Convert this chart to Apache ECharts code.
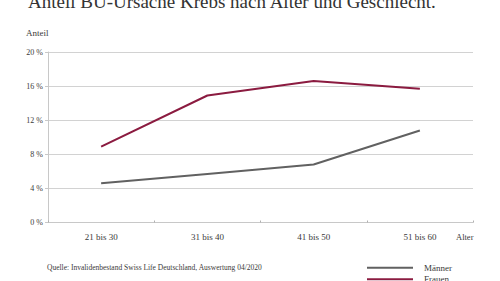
<!DOCTYPE html>
<html>
<head>
<meta charset="utf-8">
<script src="https://cdn.jsdelivr.net/npm/echarts@6/dist/echarts.min.js"></script>
<style>
html,body{margin:0;padding:0;background:#fff;}
#c{width:500px;height:281px;}
</style>
</head>
<body>
<div id="c"></div>
<script>
var titleText = 'Anteil BU-Ursache Krebs nach Alter und Geschlecht.';
var sourceText = 'Quelle: Invalidenbestand Swiss Life Deutschland, Auswertung 04/2020';
var categories = ['21 bis 30', '31 bis 40', '41 bis 50', '51 bis 60'];
var seriesNames = ['Männer', 'Frauen'];
var maenner = [4.6, 5.7, 6.8, 10.8];
var frauen = [8.9, 14.9, 16.6, 15.7];
var yTicks = [0, 4, 8, 12, 16, 20];
var yAxisName = 'Anteil';
var xAxisName = 'Alter';

var FONT = '"Liberation Serif", "DejaVu Serif", serif';
var TXT = '#3a3a3a';
var chart = echarts.init(document.getElementById('c'), null, {renderer: 'svg'});
chart.setOption({
  backgroundColor: '#fff',
  animation: false,
  textStyle: {fontFamily: FONT},
  grid: {left: 48, right: 27, top: 52, bottom: 58.5},
  xAxis: {
    type: 'category',
    data: categories,
    boundaryGap: true,
    axisLine: {lineStyle: {color: '#c8c8c8', width: 1}},
    axisTick: {show: true, inside: true, length: 2, lineStyle: {color: '#b0b0b0'}},
    axisLabel: {color: TXT, fontSize: 9, fontFamily: FONT, margin: 9.5}
  },
  yAxis: {
    type: 'value',
    min: yTicks[0],
    max: yTicks[yTicks.length - 1],
    interval: 4,
    axisLine: {show: true, lineStyle: {color: '#c8c8c8', width: 1}},
    axisTick: {show: true, length: 3, lineStyle: {color: '#c8c8c8'}},
    axisLabel: {color: TXT, fontSize: 8, fontFamily: FONT, margin: 5, formatter: '{value} %'},
    splitLine: {lineStyle: {color: '#d2d2d2', width: 1}}
  },
  legend: {
    type: 'plain',
    orient: 'vertical',
    left: 367,
    top: 262.7,
    height: 40,
    icon: 'rect',
    itemWidth: 46,
    itemHeight: 2,
    itemGap: 1.6,
    padding: 0,
    textStyle: {fontFamily: FONT, fontSize: 9, color: TXT, lineHeight: 10, padding: [0, 0, 0, 6]},
    data: seriesNames
  },
  graphic: [
    {type: 'text', left: 28, top: -8, style: {text: titleText, font: '19px ' + FONT, fill: '#333'}},
    {type: 'text', left: 26, top: 28, style: {text: yAxisName, font: '9px ' + FONT, fill: TXT}},
    {type: 'text', left: 456, top: 232, style: {text: xAxisName, font: '8.5px ' + FONT, fill: TXT}},
    {type: 'text', left: 47, top: 263.5, style: {text: sourceText, font: '7.5px ' + FONT, fill: TXT}}
  ],
  series: [
    {name: seriesNames[0], type: 'line', data: maenner, symbol: 'none',
     lineStyle: {color: '#616161', width: 2}, itemStyle: {color: '#616161'}},
    {name: seriesNames[1], type: 'line', data: frauen, symbol: 'none',
     lineStyle: {color: '#8b1b40', width: 2}, itemStyle: {color: '#8b1b40'}}
  ]
});
</script>
</body>
</html>
